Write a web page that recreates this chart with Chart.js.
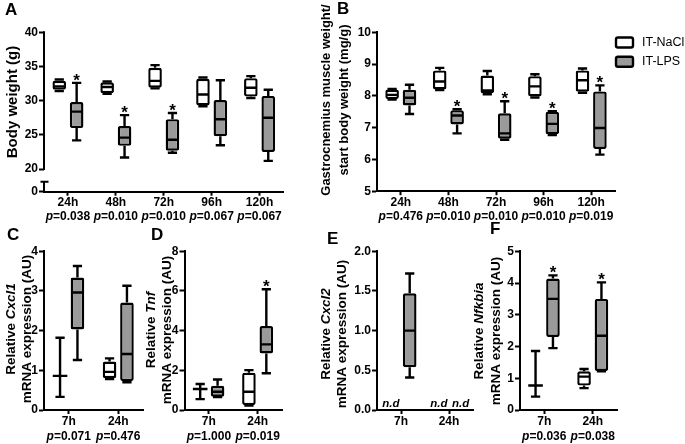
<!DOCTYPE html>
<html>
<head>
<meta charset="utf-8">
<title>Body weight, muscle weight and lung mRNA after IT-NaCl / IT-LPS</title>
<script src="https://cdn.jsdelivr.net/npm/chart.js@4.4.1/dist/chart.umd.min.js"></script>
<style>
  html, body { margin:0; padding:0; background:#ffffff; }
  #fig { position:relative; width:685px; height:444px; overflow:hidden; background:#ffffff; }
  #fig canvas { position:absolute; left:0; top:0; }
</style>
</head>
<body>
<div id="fig"></div>
<script>
// ---------------- DATA ----------------
const seriesNames = ['IT-NaCl', 'IT-LPS'];
const timeCats = ['24h', '48h', '72h', '96h', '120h'];
const mrnaCats = ['7h', '24h'];

// each group: [min, Q1, median, Q3, max]; null = not detected (n.d)
// A: body weight (g)
const A_NaCl = [[31.4, 31.6, 32.1, 32.9, 33.1], [31.0, 31.1, 32.0, 32.7, 32.8], [31.8, 31.9, 32.9, 34.8, 35.2], [29.2, 29.3, 30.9, 33.2, 33.4], [30.4, 30.6, 31.9, 33.3, 33.6]];
const A_LPS  = [[24.2, 26.0, 28.4, 29.8, 32.6], [21.7, 23.4, 24.6, 26.3, 27.9], [22.4, 22.7, 24.3, 27.3, 28.2], [23.5, 24.8, 27.3, 30.1, 33.0], [21.2, 22.5, 27.5, 30.7, 31.6]];
const A_pValues = ['0.038', '0.010', '0.010', '0.067', '0.067'];
const A_stars = [true, true, true, false, false];
const A_yTicks = [0, 20, 25, 30, 35, 40];

// B: gastrocnemius weight / start body weight (mg/g)
const B_NaCl = [[7.88, 7.90, 8.03, 8.20, 8.22], [8.18, 8.20, 8.45, 8.80, 8.88], [8.05, 8.08, 8.17, 8.64, 8.78], [7.95, 7.98, 8.30, 8.62, 8.68], [8.10, 8.13, 8.49, 8.80, 8.86]];
const B_LPS  = [[7.43, 7.70, 7.94, 8.19, 8.35], [6.82, 7.10, 7.38, 7.55, 7.58], [6.62, 6.65, 6.82, 7.45, 7.83], [6.77, 6.79, 7.12, 7.50, 7.52], [6.15, 6.33, 6.99, 8.14, 8.33]];
const B_pValues = ['0.476', '0.010', '0.010', '0.010', '0.019'];
const B_stars = [false, true, true, true, true];
const B_yTicks = [5, 6, 7, 8, 9, 10];

// C: Cxcl1
const C_NaCl = [[0.33, 0.86, 0.86, 0.86, 1.82], [0.78, 0.80, 0.96, 1.22, 1.30]];
const C_LPS  = [[1.26, 2.03, 2.96, 3.34, 3.63], [0.70, 0.73, 1.41, 2.71, 3.13]];
const C_pValues = ['0.071', '0.476'];
const C_stars = [false, false];
const C_yTicks = [0, 1, 2, 3, 4];

// D: Tnf
const D_NaCl = [[0.55, 1.06, 1.06, 1.06, 1.31], [0.22, 0.25, 0.92, 1.88, 2.01]];
const D_LPS  = [[0.65, 0.67, 0.92, 1.22, 1.54], [1.85, 2.85, 3.31, 4.23, 6.09]];
const D_pValues = ['1.000', '0.019'];
const D_stars = [false, true];
const D_yTicks = [0, 2, 4, 6, 8];

// E: Cxcl2
const E_NaCl = [null, null];
const E_LPS  = [[0.41, 0.54, 1.00, 1.47, 1.72], null];
const E_pValues = [];
const E_stars = [false, false];
const E_yTicks = [0, 0.5, 1.0, 1.5, 2.0];

// F: Nfkbia
const F_NaCl = [[0.42, 0.77, 0.77, 0.77, 1.86], [0.69, 0.77, 1.05, 1.22, 1.29]];
const F_LPS  = [[1.95, 2.30, 3.50, 4.14, 4.24], [1.22, 1.23, 2.34, 3.50, 4.02]];
const F_pValues = ['0.036', '0.038'];
const F_stars = [true, true];
const F_yTicks = [0, 1, 2, 3, 4, 5];

// ---------------- STYLE / LAYOUT ----------------
const FONT = '"Liberation Sans", Arial, Helvetica, sans-serif';
const INK = '#000000';
const FILLS = ['#ffffff', '#9a9a9a'];
const W = 685, H = 444, YW = 40, XH = 40;
const LW = 2.4;
const TICKFONT = 12;

function fontStr(size, bold, italic) {
  return (italic ? 'italic ' : '') + (bold ? 'bold ' : '') + size + 'px ' + FONT;
}
function drawRich(ctx, segs, size) {
  let total = 0;
  segs.forEach(s => { ctx.font = fontStr(size, true, s[1]); total += ctx.measureText(s[0]).width; });
  let x = -total / 2;
  segs.forEach(s => { ctx.font = fontStr(size, true, s[1]); ctx.fillText(s[0], x, 0); x += ctx.measureText(s[0]).width; });
}

const panels = [
  { letter: 'A', lpos: [5, 15], cats: timeCats, nacl: A_NaCl, lps: A_LPS, pvals: A_pValues, stars: A_stars,
    yTicks: A_yTicks, yMin: 16.7, yMax: 40, dec: 0, broken: true,
    area: { l: 44, r: 283.5, t: 32.3, b: 191.7 }, pY: 217,
    title: { lines: [[['Body weight (g)', false]]], xs: [13], cy: 102, size: 15 } },
  { letter: 'B', lpos: [337, 14], cats: timeCats, nacl: B_NaCl, lps: B_LPS, pvals: B_pValues, stars: B_stars,
    yTicks: B_yTicks, yMin: 5, yMax: 10, dec: 0, legend: true,
    area: { l: 377, r: 615, t: 32.3, b: 191.2 }, pY: 217,
    title: { lines: [[['Gastrocnemius muscle weight/', false]], [['start body weight (mg/g)', false]]], xs: [326, 344], cy: 100, size: 13 } },
  { letter: 'C', lpos: [7, 240], cats: mrnaCats, nacl: C_NaCl, lps: C_LPS, pvals: C_pValues, stars: C_stars,
    yTicks: C_yTicks, yMin: 0, yMax: 4, dec: 0,
    area: { l: 44, r: 143, t: 251.3, b: 410 }, pY: 437,
    title: { lines: [[['Relative ', false], ['Cxcl1', true]], [['mRNA expression (AU)', false]]], xs: [11, 27], cy: 329, size: 13.5 } },
  { letter: 'D', lpos: [151, 240], cats: mrnaCats, nacl: D_NaCl, lps: D_LPS, pvals: D_pValues, stars: D_stars,
    yTicks: D_yTicks, yMin: 0, yMax: 8, dec: 0,
    area: { l: 184.5, r: 282, t: 251.3, b: 410 }, pY: 437,
    title: { lines: [[['Relative ', false], ['Tnf', true]], [['mRNA expression (AU)', false]]], xs: [151, 167.5], cy: 330, size: 13.5 } },
  { letter: 'E', lpos: [327, 244], cats: mrnaCats, nacl: E_NaCl, lps: E_LPS, pvals: E_pValues, stars: E_stars,
    yTicks: E_yTicks, yMin: 0, yMax: 2, dec: 1, nd: true,
    area: { l: 377, r: 473, t: 251.3, b: 410 }, pY: 437,
    title: { lines: [[['Relative ', false], ['Cxcl2', true]], [['mRNA expression (AU)', false]]], xs: [326, 342.5], cy: 334, size: 13.5 } },
  { letter: 'F', lpos: [490, 234], cats: mrnaCats, nacl: F_NaCl, lps: F_LPS, pvals: F_pValues, stars: F_stars,
    yTicks: F_yTicks, yMin: 0, yMax: 5, dec: 0,
    area: { l: 520, r: 617, t: 251.3, b: 410 }, pY: 437,
    title: { lines: [[['Relative ', false], ['Nfkbia', true]], [['mRNA expression (AU)', false]]], xs: [479, 496], cy: 331, size: 13.5 } }
];

function panelPlugin(p) {
  return {
    id: 'panel' + p.letter,
    afterDatasetsDraw(chart) {
      const ctx = chart.ctx, ys = chart.scales.y, xs = chart.scales.x;
      ctx.save();
      ctx.strokeStyle = INK; ctx.fillStyle = INK; ctx.lineWidth = LW; ctx.lineCap = 'butt';
      [p.nacl, p.lps].forEach((grp, di) => {
        const meta = chart.getDatasetMeta(di);
        grp.forEach((s, j) => {
          const el = meta.data[j];
          const x = (el && isFinite(el.x)) ? el.x : xs.getPixelForValue(j) + (di ? 1 : -1) * 8.7;
          if (!s) {
            if (p.nd) {
              ctx.font = fontStr(11.5, true, true);
              ctx.textAlign = 'center'; ctx.textBaseline = 'alphabetic';
              ctx.fillText('n.d', x + (di ? 3 : -1.5), ys.bottom - 3);
            }
            return;
          }
          const w = el.width;
          const px = s.map(v => ys.getPixelForValue(v));
          const cw = w * 0.68;
          ctx.beginPath();
          ctx.moveTo(x, px[3]); ctx.lineTo(x, px[4]);
          ctx.moveTo(x - cw / 2, px[4]); ctx.lineTo(x + cw / 2, px[4]);
          ctx.moveTo(x, px[1]); ctx.lineTo(x, px[0]);
          ctx.moveTo(x - cw / 2, px[0]); ctx.lineTo(x + cw / 2, px[0]);
          const mw = (s[1] === s[3]) ? w + 1 : w - 2;
          ctx.moveTo(x - mw / 2, px[2]); ctx.lineTo(x + mw / 2, px[2]);
          ctx.stroke();
          if (di === 1 && p.stars[j]) {
            ctx.font = fontStr(17, true, false);
            ctx.textAlign = 'center'; ctx.textBaseline = 'alphabetic';
            ctx.fillText('*', x, px[4] + 3);
          }
        });
      });
      ctx.restore();
    },
    afterDraw(chart) {
      const ctx = chart.ctx, ys = chart.scales.y, xs = chart.scales.x, ca = chart.chartArea;
      ctx.save();
      ctx.fillStyle = INK; ctx.strokeStyle = INK;
      // broken y axis
      if (p.broken) {
        const ax = Math.round(ca.left);
        ctx.lineWidth = 2;
        ctx.beginPath();
        ctx.moveTo(ax, ca.top - 1); ctx.lineTo(ax, ys.getPixelForValue(p.yTicks[1]) + 1);
        const lowTop = ca.bottom - 10;
        ctx.moveTo(ax, lowTop); ctx.lineTo(ax, ca.bottom + 1);
        ctx.moveTo(ax - 3.5, lowTop); ctx.lineTo(ax + 4.5, lowTop);
        ctx.stroke();
      }
      // p values under the category labels
      ctx.textBaseline = 'middle'; ctx.textAlign = 'left';
      p.pvals.forEach((v, j) => {
        const cx = xs.getPixelForTick(j);
        ctx.font = fontStr(TICKFONT, true, true); const w1 = ctx.measureText('p').width;
        ctx.font = fontStr(TICKFONT, true, false); const w2 = ctx.measureText('=' + v).width;
        const x0 = cx - (w1 + w2) / 2;
        ctx.font = fontStr(TICKFONT, true, true); ctx.fillText('p', x0, p.pY);
        ctx.font = fontStr(TICKFONT, true, false); ctx.fillText('=' + v, x0 + w1, p.pY);
      });
      // y-axis title (rotated, rich text)
      p.title.lines.forEach((segs, k) => {
        ctx.save();
        ctx.translate(p.title.xs[k], p.title.cy);
        ctx.rotate(-Math.PI / 2);
        ctx.textBaseline = 'middle'; ctx.textAlign = 'left';
        drawRich(ctx, segs, p.title.size);
        ctx.restore();
      });
      // panel letter
      ctx.font = fontStr(17, true, false);
      ctx.textAlign = 'left'; ctx.textBaseline = 'alphabetic';
      ctx.fillText(p.letter, p.lpos[0], p.lpos[1]);
      // legend
      if (p.legend) {
        chart.data.datasets.forEach((ds, i) => {
          const ry = 37.5 + i * 19.3;
          ctx.beginPath();
          ctx.roundRect(616, ry, 17, 10, 2);
          ctx.fillStyle = ds.backgroundColor; ctx.fill();
          ctx.lineWidth = LW; ctx.strokeStyle = INK; ctx.stroke();
          ctx.fillStyle = INK;
          ctx.font = fontStr(12.5, false, false);
          ctx.textAlign = 'left'; ctx.textBaseline = 'middle';
          ctx.fillText(ds.label, 642, ry + 5.2);
        });
      }
      ctx.restore();
    }
  };
}

function buildPanel(p) {
  const cv = document.createElement('canvas');
  cv.width = W; cv.height = H;
  document.getElementById('fig').appendChild(cv);
  const catW = (p.area.r - p.area.l) / p.cats.length;
  const cp = 4 * 8.7 / catW;
  const bp = 13.6 / (catW * cp / 2);
  const toBox = arr => arr.map(s => s ? [s[1], s[3]] : null);
  const ds = (name, arr, i) => ({
    label: name,
    data: toBox(arr),
    backgroundColor: FILLS[i],
    borderColor: INK,
    borderWidth: c => { const s = arr[c.dataIndex]; return (s && s[1] !== s[3]) ? LW : 0; },
    borderSkipped: false,
    borderRadius: 2,
    categoryPercentage: cp,
    barPercentage: bp
  });
  new Chart(cv, {
    type: 'bar',
    data: { labels: p.cats, datasets: [ds(seriesNames[0], p.nacl, 0), ds(seriesNames[1], p.lps, 1)] },
    options: {
      responsive: false, animation: false, devicePixelRatio: 1,
      layout: { padding: { left: p.area.l - YW, right: W - p.area.r, top: p.area.t, bottom: H - p.area.b - XH } },
      plugins: { legend: { display: false }, tooltip: { enabled: false } },
      scales: {
        x: {
          type: 'category', offset: true,
          grid: { display: true, drawOnChartArea: false, drawTicks: true, tickLength: 4, color: INK, tickColor: INK, tickWidth: 2, offset: false },
          border: { display: true, color: INK, width: 2 },
          ticks: { font: { family: FONT, size: TICKFONT, weight: 'bold' }, color: INK, padding: 0, maxRotation: 0, autoSkip: false },
          afterFit: s => { s.height = XH; }
        },
        y: {
          type: 'linear', min: p.yMin, max: p.yMax,
          grid: { display: true, drawOnChartArea: false, drawTicks: true, tickLength: 5, color: INK, tickColor: INK, tickWidth: 2 },
          border: { display: !p.broken, color: INK, width: 2 },
          ticks: { font: { family: FONT, size: TICKFONT, weight: 'bold' }, color: INK, padding: 1,
                   callback: (v, i) => p.yTicks[i].toFixed(p.dec) },
          afterBuildTicks: s => { s.ticks = p.yTicks.map((v, i) => ({ value: (p.broken && i === 0) ? p.yMin : v })); },
          afterFit: s => { s.width = YW; }
        }
      }
    },
    plugins: [panelPlugin(p)]
  });
}

panels.forEach(buildPanel);
</script>
</body>
</html>
